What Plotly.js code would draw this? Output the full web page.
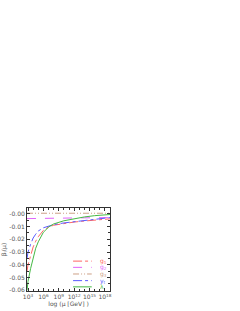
<!DOCTYPE html>
<html><head><meta charset="utf-8">
<script src="https://cdn.plot.ly/plotly-3.0.1.min.js"></script>
<style>html,body{margin:0;padding:0;background:#fff}#c{width:240px;height:311px}</style>
</head><body><div id="c"></div>
<script>
const logMu = [2.8, 3, 3.5, 4, 4.5, 5, 6, 7, 8, 10, 12, 14, 16, 18, 19];
const g1 = [-0.045, -0.040, -0.033, -0.026, -0.0215, -0.018, -0.013, -0.0105, -0.009, -0.0075, -0.0065, -0.0057, -0.005, -0.0043, -0.004];
const g2 = [-0.0038, -0.0038, -0.0037, -0.0037, -0.0037, -0.0036, -0.0036, -0.0035, -0.0035, -0.0034, -0.0033, -0.0032, -0.0031, -0.003, -0.003];
const g3 = [0.0004, 0.0004, 0.0004, 0.0004, 0.0004, 0.0004, 0.0004, 0.0004, 0.0004, 0.0004, 0.0004, 0.0004, 0.0004, 0.0004, 0.0004];
const yt = [-0.035, -0.030, -0.024, -0.019, -0.016, -0.0135, -0.011, -0.0095, -0.0085, -0.0072, -0.0062, -0.0052, -0.0042, -0.0033, -0.003];
const lam = [-0.060, -0.053, -0.043, -0.034, -0.027, -0.022, -0.0145, -0.0105, -0.008, -0.0055, -0.0038, -0.0025, -0.0015, -0.0008, -0.0006];
const xTickVals = [1e3, 1e6, 1e9, 1e12, 1e15, 1e18];
const xTickText = ['10<sup>3</sup>', '10<sup>6</sup>', '10<sup>9</sup>', '10<sup>12</sup>', '10<sup>15</sup>', '10<sup>18</sup>'];
const yTickVals = [0, -0.01, -0.02, -0.03, -0.04, -0.05, -0.06];
const yTickText = ['-0.00', '-0.01', '-0.02', '-0.03', '-0.04', '-0.05', '-0.06'];

const mu = logMu.map(v => Math.pow(10, v));
const series = [
  {name: 'g<sub>1</sub>', y: g1, color: 'rgb(255,100,100)', dash: 'dashdot'},
  {name: 'g<sub>2</sub>', y: g2, color: 'rgb(225,100,250)', dash: 'dash'},
  {name: 'g<sub>3</sub>', y: g3, color: 'rgb(205,160,135)', dash: '6px,2px,1px,2px,1px,2px'},
  {name: 'y<sub>t</sub>', y: yt, color: 'rgb(90,90,255)', dash: 'dashdot'},
  {name: 'λ', y: lam, color: 'rgb(70,185,70)', dash: 'solid'}
];
const traces = series.map(s => ({
  x: mu, y: s.y, type: 'scatter', mode: 'lines', line: {color: s.color, width: 1, dash: s.dash},
  name: s.name, showlegend: false
}));
// legend drawn manually (compact rows)
const legY = [0.36, 0.285, 0.205, 0.125, 0.05];
const shapes = [], annotations = [];
series.forEach((s, i) => {
  shapes.push({type: 'line', xref: 'paper', yref: 'paper', x0: 0.555, x1: 0.78, y0: legY[i], y1: legY[i],
    line: {color: s.color, width: 1, dash: s.dash}});
  annotations.push({xref: 'paper', yref: 'paper', x: 0.86, y: legY[i], xanchor: 'left', yanchor: 'middle', showarrow: false,
    text: s.name, font: {family: 'DejaVu Sans', size: 6, color: s.color}});
});
const axFont = {family: 'DejaVu Sans', size: 6, color: '#555'};
Plotly.newPlot('c', traces, {
  width: 240, height: 311,
  margin: {l: 27, r: 130, t: 208, b: 20},
  paper_bgcolor: '#fff', plot_bgcolor: '#fff',
  font: axFont,
  showlegend: false,
  shapes: shapes, annotations: annotations,
  xaxis: {type: 'log', range: [2.8, 19.0], tickvals: xTickVals, ticktext: xTickText, ticks: 'inside', ticklen: 3, tickcolor: '#333',
    showline: true, linecolor: '#333', linewidth: 1, mirror: 'ticks', showgrid: false, zeroline: false, tickfont: axFont, automargin: false,
    minor: {ticks: 'inside', ticklen: 2, tickcolor: '#333', tickvals: [1e4,1e5,1e7,1e8,1e10,1e11,1e13,1e14,1e16,1e17]},
    title: {text: 'log (μ [GeV] )', font: axFont, standoff: 2}},
  yaxis: {range: [-0.0605, 0.0045], tickvals: yTickVals, ticktext: yTickText, ticks: 'inside', ticklen: 3, tickcolor: '#333',
    showline: true, linecolor: '#333', linewidth: 1, mirror: 'ticks', showgrid: false, zeroline: false, tickfont: axFont, automargin: false,
    minor: {ticks: 'inside', ticklen: 2, tickcolor: '#333', dtick: 0.005},
    title: {text: 'β<sub>i</sub>(μ)', font: axFont, standoff: 2}}
}, {displayModeBar: false});
</script></body></html>
